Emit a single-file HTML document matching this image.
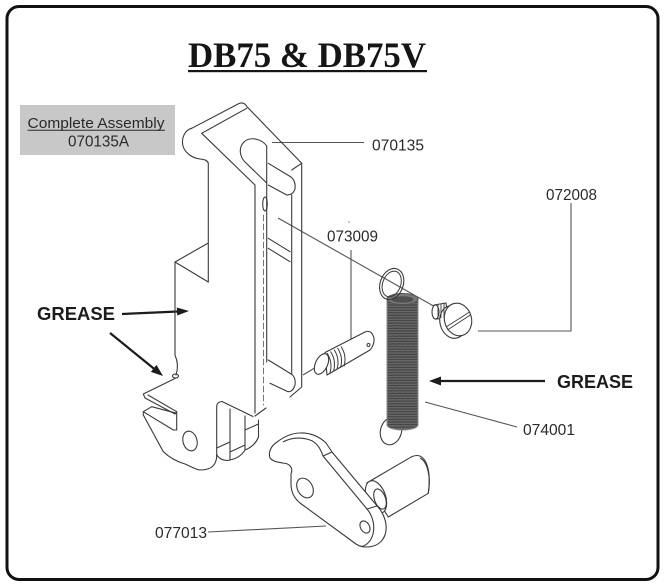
<!DOCTYPE html>
<html><head><meta charset="utf-8">
<style>
html,body{margin:0;padding:0;background:#fff;}
svg{display:block;}
</style></head>
<body>
<svg width="664" height="587" viewBox="0 0 664 587" xmlns="http://www.w3.org/2000/svg">
<defs>
<pattern id="coil" width="6" height="2.6" patternUnits="userSpaceOnUse">
<rect width="6" height="2.6" fill="#5e5e5e"/>
<path d="M0 1 Q3 0.3 6 1" stroke="#3e3e3e" stroke-width="0.8" fill="none"/>
<path d="M0 2.2 Q3 1.6 6 2.2" stroke="#707070" stroke-width="0.5" fill="none"/>
</pattern>
</defs>

<!-- frame -->
<rect x="7" y="6.5" width="651" height="573" rx="12" ry="12" fill="#fff" stroke="#111" stroke-width="3"/>

<!-- title -->
<text x="188" y="67" font-family="Liberation Serif, serif" font-weight="bold" font-size="36" fill="#151515" textLength="238" lengthAdjust="spacingAndGlyphs">DB75 &amp; DB75V</text>
<rect x="188" y="70" width="239" height="2.2" fill="#151515"/>

<!-- complete assembly box -->
<rect x="20" y="105" width="155" height="50" fill="#c8c8c8"/>
<text x="27.5" y="128" font-family="Liberation Sans, sans-serif" font-size="15" fill="#2a2a2a" textLength="137" lengthAdjust="spacingAndGlyphs">Complete Assembly</text>
<line x1="27.5" y1="130.3" x2="165" y2="130.3" stroke="#2a2a2a" stroke-width="1"/>
<text x="68" y="146.5" font-family="Liberation Sans, sans-serif" font-size="15.5" fill="#2a2a2a" textLength="61" lengthAdjust="spacingAndGlyphs">070135A</text>

<!-- part labels -->
<g font-family="Liberation Sans, sans-serif" font-size="15.5" fill="#2a2a2a">
<text x="372" y="150.5" textLength="52" lengthAdjust="spacingAndGlyphs">070135</text>
<text x="546" y="200" textLength="51" lengthAdjust="spacingAndGlyphs">072008</text>
<text x="327" y="241.7" textLength="51" lengthAdjust="spacingAndGlyphs">073009</text>
<text x="523" y="435" textLength="52" lengthAdjust="spacingAndGlyphs">074001</text>
<text x="155" y="538" textLength="52" lengthAdjust="spacingAndGlyphs">077013</text>
</g>

<!-- GREASE labels -->
<g font-family="Liberation Sans, sans-serif" font-weight="bold" font-size="18" fill="#1c1c1c">
<text x="37" y="320" textLength="78" lengthAdjust="spacingAndGlyphs">GREASE</text>
<text x="557" y="388" textLength="76" lengthAdjust="spacingAndGlyphs">GREASE</text>
</g>

<!-- leader lines -->
<g fill="none" stroke="#555" stroke-width="1.1">
<line x1="272" y1="142.5" x2="364" y2="142.5"/>
<polyline points="478,331 571,331 571,203"/>
<line x1="351" y1="250" x2="351" y2="350"/>
<line x1="425" y1="402" x2="517" y2="427"/>
<line x1="208" y1="532" x2="326" y2="526"/>
<line x1="278" y1="218" x2="437" y2="308"/>
<line x1="303" y1="375" x2="318" y2="366"/>
</g>
<circle cx="349" cy="222" r="0.8" fill="#888"/>

<!-- arrows -->
<g stroke="#1c1c1c" stroke-width="2.2" fill="none">
<line x1="122" y1="314" x2="178" y2="311.5"/>
<line x1="110" y1="333" x2="155" y2="369.5"/>
<line x1="545" y1="381" x2="440" y2="381"/>
</g>
<g fill="#1c1c1c">
<polygon points="189,311 177.2,315.5 176.8,307.5"/>
<polygon points="163,376 150.9,371.9 156.5,364.9"/>
<polygon points="429,381 441,376.5 441,385.5"/>
</g>

<!-- main body 070135 -->
<g fill="none" stroke="#3a3a3a" stroke-width="1.1" stroke-linejoin="round" stroke-linecap="round">
<path d="M191.7,128.3 L239,103.5 Q244,101.5 247,106.7 L301.7,163.3 L301.7,387 L290,397"/>
<path d="M201.7,133.3 L246.7,108.3"/>
<path d="M201.7,133.3 L255,185 L255,413"/>
<path d="M191.7,128.3 C185,130 181,138 183,146 C185,153 192,158 200,159 C204,159.5 207,160 208.3,163 L208.3,282"/>
<path d="M208.3,243 L175,262 L208.3,282"/>
<path d="M175,262 L175,355 C178,362 178,369 176,375"/>
<ellipse cx="175.5" cy="376" rx="3" ry="2"/>
<!-- slot -->
<path d="M266.7,146 C262,139 250,136 244,142 C238,148 240,157 245,162 L266.7,183"/>
<path d="M291.7,170 L301.7,163.3"/>
<!-- channel -->
<path d="M268.3,163.3 L291,177 Q296,181 295,189 Q293,195 286.7,195 L268.3,185"/>
<line x1="266.7" y1="146" x2="266.7" y2="362"/>
<line x1="291.7" y1="195" x2="291.7" y2="374"/>
<line x1="263.5" y1="215" x2="263.5" y2="405" stroke-width="0.7" stroke-dasharray="6,3"/>
<ellipse cx="265" cy="204" rx="2.3" ry="7"/>
<line x1="268.3" y1="238.3" x2="290" y2="251.7"/>
<line x1="268.3" y1="248.3" x2="290" y2="261.7"/>
<path d="M268.3,360 L292,374.5 Q296,378 295,385 Q293,392 288,391.7 L270,383.3"/>
<path d="M255,416 L266,408"/>
<!-- tongue / jaws -->
<path d="M176,378 L143.3,394 L145,398 L175,414 L176.7,411.7 L148,395"/>
<path d="M176.7,411.7 L176.7,430 L173.3,430 L143.3,411.7 L151.7,406.7 L176.7,413.3"/>
<path d="M143.3,411.7 L143.3,415 L163.3,451.7 C170,458 178,462 185,464 C192,467 197,470 200,470 C205,470 210,469 213,466 C216,463 216.7,459 216.7,455"/>
<ellipse cx="190" cy="441" rx="7" ry="10" transform="rotate(-15 190 441)"/>
<!-- right block -->
<path d="M216.7,455 L216.7,406 Q217,402 222,401.5 L253,416.5"/>
<line x1="230" y1="409" x2="230" y2="460"/>
<line x1="245" y1="416" x2="245" y2="450"/>
<line x1="258.5" y1="420" x2="258.5" y2="437"/>
<path d="M216.7,448 L230,442"/>
<path d="M230,452 L245,445"/>
<path d="M245,430 L258.5,424"/>
<path d="M216.7,455 Q222,462 230,460 Q240,458 245,450 Q255,446 258.5,437"/>
</g>

<!-- pin 073009 -->
<g fill="#fff" stroke="#3a3a3a" stroke-width="1.1" stroke-linejoin="round">
<path d="M325,352.5 L365,332 C372,329 376,338 373,345 C372,348 371,349 370,350 L327,375 Z"/>
<ellipse cx="321.5" cy="364" rx="6" ry="11" transform="rotate(25 321.5 364)"/>
</g>
<g fill="none" stroke="#3a3a3a" stroke-width="1">
<path d="M327,353 Q333,362 330,373"/>
<path d="M330.5,351.5 Q336.5,360.5 333.5,371.5"/>
<path d="M334,349.5 Q340,358.5 337,369.5"/>
<path d="M337.5,348 Q343.5,357 340.5,368"/>
<path d="M341,346.5 Q347,355.5 344,366.5"/>
<circle cx="368.5" cy="345" r="1.5"/>
</g>

<!-- spring 074001 -->
<ellipse cx="391" cy="431" rx="10.5" ry="14" transform="rotate(15 391 431)" fill="none" stroke="#3a3a3a" stroke-width="1.1"/>
<path d="M387,299 L387,425 A15.5,5 0 0 0 418,425 L418,299 Z" fill="url(#coil)" stroke="#8a8a8a" stroke-width="1"/>
<ellipse cx="402.5" cy="299" rx="15.5" ry="5.5" fill="#7a7a7a" stroke="#555" stroke-width="1"/>
<ellipse cx="402.5" cy="299.5" rx="11" ry="3.3" fill="#505050"/>
<!-- top ring -->
<ellipse cx="391.7" cy="284" rx="11.5" ry="16" transform="rotate(20 391.7 284)" fill="none" stroke="#3a3a3a" stroke-width="1.1"/>
<ellipse cx="391.7" cy="284" rx="9" ry="13.3" transform="rotate(20 391.7 284)" fill="none" stroke="#3a3a3a" stroke-width="1"/>

<!-- screw 072008 -->
<g stroke="#3a3a3a" stroke-width="1.1" fill="#fff">
<path d="M434,305 L446,303 L448,318 L436,319 Z"/>
<ellipse cx="435.5" cy="312" rx="3.5" ry="7" />
<ellipse cx="453" cy="322" rx="13" ry="16.5" transform="rotate(-15 453 322)"/>
<ellipse cx="458" cy="319.5" rx="13.5" ry="16.5" transform="rotate(-15 458 319.5)"/>
</g>
<g stroke="#3a3a3a" stroke-width="0.9" fill="none">
<path d="M438,305 L438,318 M441,304 L441,318 M444,303.5 L444,318"/>
<line x1="446" y1="327" x2="470" y2="311.7"/>
<line x1="447.5" y1="330" x2="471" y2="314.5"/>
</g>

<!-- lever 077013 -->
<g fill="#fff" stroke="#3a3a3a" stroke-width="1.1" stroke-linejoin="round">
<path d="M366.7,483 L411.7,456.7 C424,451 432,466 428.3,493.3 L388.3,517 Z"/>
<path d="M420,458 C428,462 431,478 428.3,493.3" fill="none"/>
<ellipse cx="376" cy="497" rx="9.5" ry="17" transform="rotate(-20 376 497)"/>
<ellipse cx="380" cy="499" rx="5.5" ry="10.5" transform="rotate(-20 380 499)"/>
<path d="M270,458 C268,452 271,446 277,442 C285,436 293,433 300,433 C309,432.5 319,436 326,443 L332,452 L378,507 C385,515 388,526 385,535 C382,543 375,547 366,547 C362,547 359,546 356,544 L300,503 C294,498 291,491 291,484 L291,474 C293,469 291,465 286,463.5 C280,462.5 273,462 270,458 Z"/>
</g>
<g fill="none" stroke="#3a3a3a" stroke-width="1.1" stroke-linejoin="round">
<path d="M283,442 C291,437.5 301,437 310,440 C316,442 320,447 323,456 L367,509 C373,516 375,526 373,534 C371,541 367,545 362,546.5"/>
<path d="M323,456 L332,452"/>
<path d="M367,509 L377,506"/>
<ellipse cx="305" cy="488" rx="7.5" ry="10.5" transform="rotate(-30 305 488)"/>
<ellipse cx="365" cy="527" rx="4.5" ry="6.5" transform="rotate(-30 365 527)"/>
</g>
</svg>
</body>
</html>
